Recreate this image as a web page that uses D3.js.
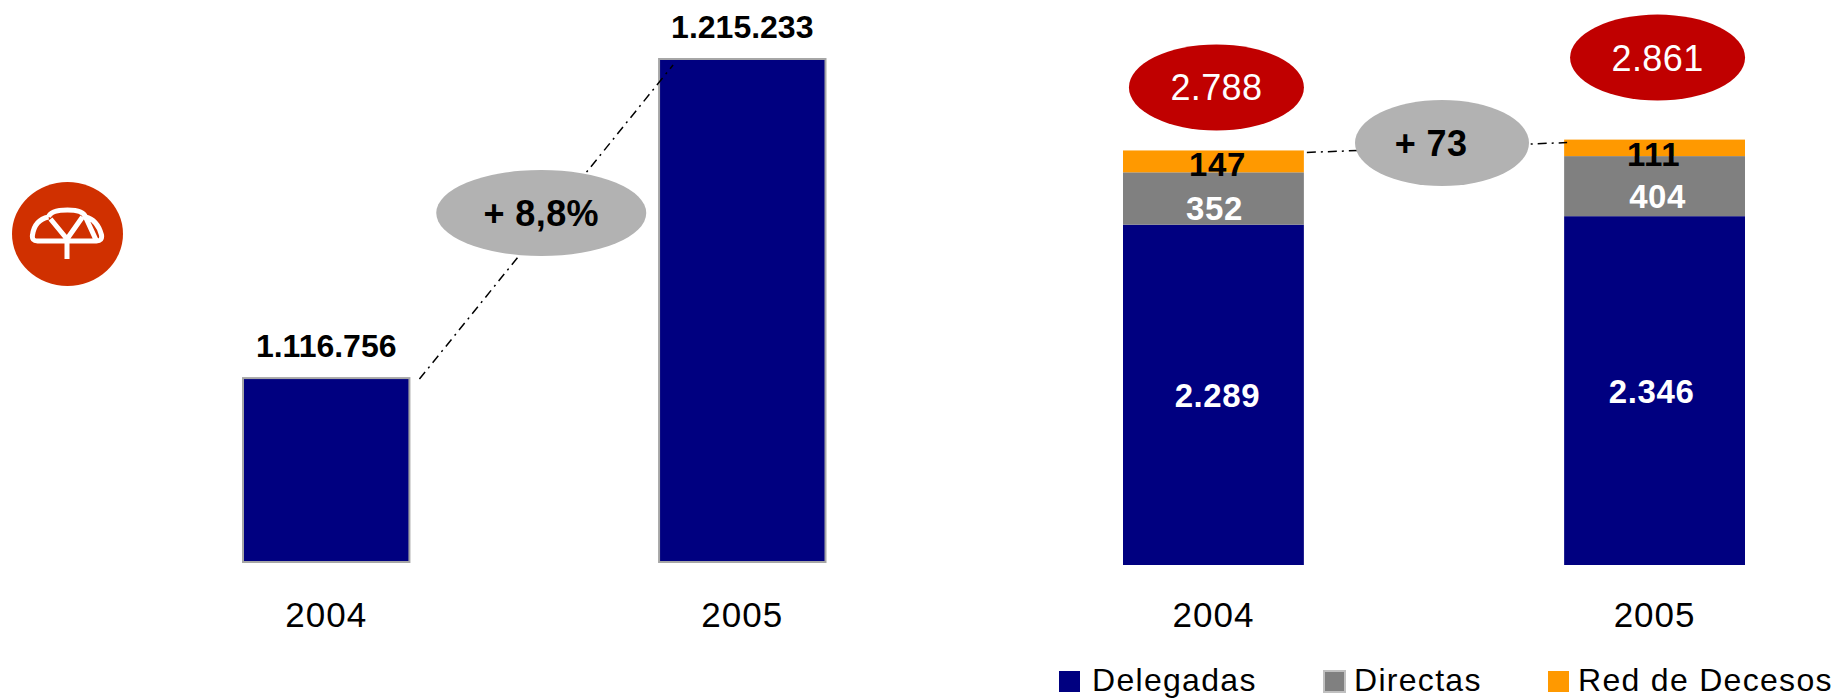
<!DOCTYPE html>
<html>
<head>
<meta charset="utf-8">
<script src="https://cdn.jsdelivr.net/npm/d3@7"></script>
<style>
  html, body { margin: 0; padding: 0; background: #fff; }
  svg { display: block; font-family: "Liberation Sans", Arial, sans-serif; }
</style>
</head>
<body>
<div id="box"></div>
<script>
const years = ['2004', '2005']
const polizas = [1116756, 1215233]
const polizasLabels = ['1.116.756', '1.215.233']
const seriesNames = ['Delegadas', 'Directas', 'Red de Decesos']
const delegadas = [2289, 2346]
const directas = [352, 404]
const decesos = [147, 111]
const totales = [2788, 2861]
const growthLabel = '+ 8,8%'
const diffLabel = '+ 73'

const colors = ['#000080', '#808080', '#ff9900']
const labelColors = ['#fff', '#fff', '#000']
// 数字标签相对色块中心的偏移 [dx, dy]，每个系列两根柱
const labelNudge = [
  [[4, 0], [-3, 0]],
  [[1, 10], [3, 10]],
  [[4, 3], [-1, 6]]
]

const width = 1840
const height = 698

const svg = d3.select('#box').append('svg')
  .attr('width', width).attr('height', height)

const fmt = d => d.toLocaleString('de-DE')

function addText(g, x, y, str, size, weight, fill, spacing) {
  return g.append('text')
    .attr('x', x).attr('y', y)
    .attr('text-anchor', 'middle')
    .attr('font-size', size)
    .attr('font-weight', weight)
    .attr('letter-spacing', spacing)
    .attr('fill', fill)
    .text(str)
}

function addBubble(g, cx, cy, rx, fill, str, size, weight, color, textDx = 0) {
  g.append('ellipse')
    .attr('cx', cx).attr('cy', cy)
    .attr('rx', rx).attr('ry', 43)
    .attr('fill', fill)
  addText(g, cx + textDx, cy + size * 0.36, str, size, weight, color, 0.4)
}

function addConnector(g, x1, y1, x2, y2) {
  g.append('line')
    .attr('x1', x1).attr('y1', y1)
    .attr('x2', x2).attr('y2', y2)
    .attr('stroke', '#000')
    .attr('stroke-width', 1.5)
    .attr('stroke-dasharray', '9 5 2 5')
}

function addYearAxis(g, scale, y) {
  const axis = g.append('g')
    .attr('transform', `translate(0, ${y})`)
    .call(d3.axisBottom(scale).tickSize(0).tickPadding(0))
  axis.select('.domain').remove()
  axis.selectAll('text')
    .attr('fill', '#000')
    .attr('font-size', 35)
    .attr('letter-spacing', 1)
    .attr('dy', 0)
    .attr('y', 0)
}

// logo
const logo = svg.append('g').attr('transform', 'translate(67.5, 234)')
logo.append('ellipse')
  .attr('rx', 55.5).attr('ry', 52)
  .attr('fill', '#d03000')
logo.append('path')
  .attr('d', 'M-0.5,5 V25 M-17,-15 L-0.5,5 L15,-17 M-30,7 Q-36,7 -35,1 Q-33,-14 -19,-17 M-19,-17 Q-17,-24 0,-24 Q16,-24 18,-17 M18,-17 Q30,-14 34,1 Q35,7 29,7 Z M-30,7 H29')
  .attr('fill', 'none')
  .attr('stroke', '#fff')
  .attr('stroke-width', 5)
  .attr('stroke-linejoin', 'round')

// left chart
const left = svg.append('g').attr('class', 'left')
const xLeft = d3.scaleBand().domain(years).range([243, 825.5]).paddingInner(0.6)
const yLeft = d3.scaleLinear().domain([1060000, 1215233]).range([562, 59])

left.selectAll('rect')
  .data(polizas)
  .join('rect')
  .attr('x', (d, i) => xLeft(years[i]))
  .attr('y', d => yLeft(d))
  .attr('width', xLeft.bandwidth())
  .attr('height', d => yLeft.range()[0] - yLeft(d))
  .attr('fill', colors[0])
  .attr('stroke', '#a6a6a6')
  .attr('stroke-width', 2)

polizas.forEach((d, i) => {
  addText(left, xLeft(years[i]) + xLeft.bandwidth() / 2, yLeft(d) - 21, polizasLabels[i], 32, 'bold', '#000', 0)
})

addConnector(left,
  xLeft(years[0]) + xLeft.bandwidth() + 10, yLeft(polizas[0]) + 1,
  xLeft(years[1]) + 14, yLeft(polizas[1]) + 6)
addBubble(left, (xLeft(years[0]) + xLeft(years[1]) + xLeft.bandwidth()) / 2 + 7, 213, 105, '#b2b2b2', growthLabel, 36, 'bold', '#000')
addYearAxis(left, xLeft, 627)

// right chart
const right = svg.append('g').attr('class', 'right')
const xRight = d3.scaleBand().domain(years).range([1123, 1745]).paddingInner(0.59)
const yRight = d3.scaleLinear().domain([0, 2861]).range([565, 139.6])

const stacked = d3.stack().keys(seriesNames)(years.map((year, i) => ({
  year,
  [seriesNames[0]]: delegadas[i],
  [seriesNames[1]]: directas[i],
  [seriesNames[2]]: decesos[i]
})))

stacked.forEach((layer, s) => {
  const gLayer = right.append('g').attr('class', 'layer')
  gLayer.selectAll('rect')
    .data(layer)
    .join('rect')
    .attr('x', d => xRight(d.data.year))
    .attr('y', d => yRight(d[1]))
    .attr('width', xRight.bandwidth())
    .attr('height', d => yRight(d[0]) - yRight(d[1]))
    .attr('fill', colors[s])

  layer.forEach((d, i) => {
    const cx = xRight(d.data.year) + xRight.bandwidth() / 2 + labelNudge[s][i][0]
    const cy = (yRight(d[0]) + yRight(d[1])) / 2 + labelNudge[s][i][1]
    addText(gLayer, cx, cy + 12, fmt(d[1] - d[0]), 33, 'bold', labelColors[s], 0.6)
  })
})

addConnector(right,
  xRight(years[0]) + xRight.bandwidth() + 3, yRight(totales[0]) + 2,
  xRight(years[1]) + 3, yRight(totales[1]) + 3)

totales.forEach((d, i) => {
  addBubble(right, xRight(years[i]) + xRight.bandwidth() / 2 + 3, yRight(d) - (i === 0 ? 63 : 82), 87.5, '#c00000', fmt(d), 36, 'normal', '#fff')
})
addBubble(right, (xRight(years[0]) + xRight(years[1]) + xRight.bandwidth()) / 2 + 8, 143, 87, '#b2b2b2', diffLabel, 36, 'bold', '#000', -11)
addYearAxis(right, xRight, 627)

// legend
const legendX = [1059, 1324, 1548]
const legendTextX = [1092, 1354, 1578]
const legend = svg.append('g').attr('class', 'legend')
seriesNames.forEach((name, i) => {
  legend.append('rect')
    .attr('x', legendX[i]).attr('y', 671)
    .attr('width', 21).attr('height', 21)
    .attr('fill', colors[i])
    .attr('stroke', i === 1 ? '#c0c0c0' : 'none')
    .attr('stroke-width', 2)
  legend.append('text')
    .attr('x', legendTextX[i]).attr('y', 691)
    .attr('font-size', 32)
    .attr('letter-spacing', 1.3)
    .attr('fill', '#000')
    .text(name)
})
</script>
</body>
</html>
